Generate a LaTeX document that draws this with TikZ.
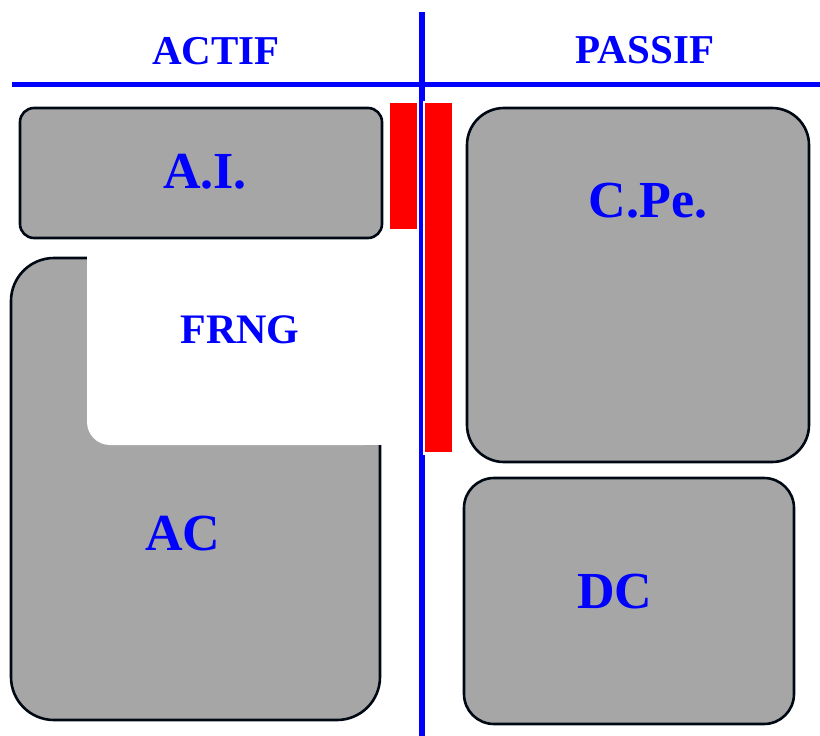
\documentclass[tikz,border=0pt]{standalone}
\usepackage{fontspec}
\setmainfont{Liberation Serif}
\definecolor{boxgray}{HTML}{A6A6A6}
\definecolor{outl}{HTML}{000814}
\tikzset{
  panel/.style={draw=outl, line width=2.6pt, fill=boxgray},
  bluerule/.style={draw=blue, line width=5.5pt},
  bigtxt/.style={text=blue, font=\bfseries\fontsize{52}{52}\selectfont, anchor=base, inner sep=0pt},
  headtxt/.style={text=blue, font=\bfseries\fontsize{41}{41}\selectfont, anchor=base, inner sep=0pt},
  midtxt/.style={text=blue, font=\bfseries\fontsize{42}{42}\selectfont, anchor=base, inner sep=0pt},
}
\begin{document}
\begin{tikzpicture}[x=1pt,y=-1pt]
\useasboundingbox (0,0) rectangle (820,736);
% blue axes
\coordinate (vtop) at (422,12);
\coordinate (vbot) at (422,736);
\coordinate (hl) at (12,84.5);
\coordinate (hr) at (820,84.5);
\draw[bluerule] (vtop) -- (vbot);
\draw[bluerule, line width=5pt] (hl) -- (hr);
% red bars with white halo
\fill[white] (388,101) rectangle (419,231);
\fill[white] (423,101) rectangle (454,455);
\fill[red] (390,103) rectangle (417,229);
\fill[red] (425,103) rectangle (452,452);
% A.I. box
\draw[panel, rounded corners=14pt] (20,108) rectangle (382,238);
% AC shape with FRNG cut
\draw[panel, rounded corners=43pt] (11,258) rectangle (380,720);
\fill[white, rounded corners=23pt] (87,252) -- (87,445) -- (386,445) -- (386,252) [sharp corners] -- cycle;
\fill[white] (87,252) rectangle (386,300);
\fill[white] (200,252) rectangle (386,445);
% C.Pe. box
\draw[panel, rounded corners=37pt] (467,108) rectangle (809,462);
% DC box
\draw[panel, rounded corners=30pt] (464,478) rectangle (794,724);
% labels
\node[headtxt] (actif) at (216,64) {ACTIF};
\node[headtxt] (passif) at (645,63) {PASSIF};
\node[bigtxt] (ai) at (205,188) {A.I.};
\node[midtxt] (frng) at (240,343) {FRNG};
\node[bigtxt] (ac) at (183,550) {AC};
\node[bigtxt] (cpe) at (648,217) {C.Pe.};
\node[bigtxt] (dc) at (615,608) {DC};
\end{tikzpicture}
\end{document}
